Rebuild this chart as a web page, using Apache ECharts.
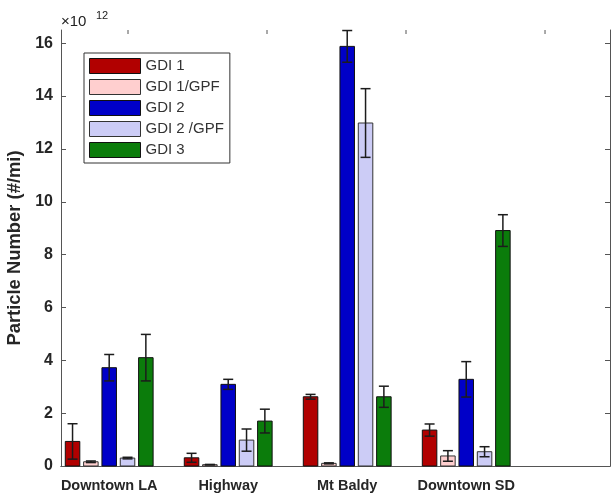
<!DOCTYPE html>
<html>
<head>
<meta charset="utf-8">
<script src="https://cdn.jsdelivr.net/npm/echarts@6/dist/echarts.min.js"></script>
<style>html,body{margin:0;padding:0;background:#fff}#c{width:611px;height:495px}</style>
</head>
<body>
<div id="c"></div>
<script>
// ---- data ----
var categories = ['Downtown LA', 'Highway', 'Mt Baldy', 'Downtown SD'];
var seriesNames = ['GDI 1', 'GDI 1/GPF', 'GDI 2', 'GDI 2 /GPF', 'GDI 3'];
var gdi1      = [0.93, 0.31, 2.62, 1.36];
var gdi1Err   = [0.67, 0.17, 0.09, 0.23];
var gdi1gpf   = [0.16, 0.05, 0.10, 0.38];
var gdi1gpfErr= [0.03, 0.01, 0.02, 0.20];
var gdi2      = [3.72, 3.09, 15.88, 3.28];
var gdi2Err   = [0.50, 0.19, 0.60, 0.67];
var gdi2gpf   = [0.30, 0.98, 12.98, 0.54];
var gdi2gpfErr= [0.03, 0.42, 1.30, 0.19];
var gdi3      = [4.10, 1.70, 2.62, 8.91];
var gdi3Err   = [0.88, 0.45, 0.40, 0.60];
var yTicks = [0, 2, 4, 6, 8, 10, 12, 14, 16];
var topTicks = [1.158, 2.326, 3.494, 4.662];

var values = [gdi1, gdi1gpf, gdi2, gdi2gpf, gdi3];
var errors = [gdi1Err, gdi1gpfErr, gdi2Err, gdi2gpfErr, gdi3Err];
var colors = ['#B10000', '#FFCFCF', '#0000C8', '#CCCCF6', '#0B7C0B'];
var borders = ['#111', '#333', '#111', '#333', '#111'];

var FONT = '"Liberation Sans", Arial, Helvetica, sans-serif';
var STEP = 0.154, BARW = 0.122;
var XMIN = 0.595, XMAX = 5.208, YMAX = 16.5;

function makeSeries(k) {
  var data = categories.map(function (c, i) { return [i + 1, values[k][i], errors[k][i]]; });
  return {
    name: seriesNames[k],
    type: 'custom',
    xAxisIndex: 0, yAxisIndex: 0,
    itemStyle: { color: colors[k], borderColor: borders[k], borderWidth: 1 },
    data: data,
    renderItem: function (params, api) {
      var x = api.value(0) + (k - 2) * STEP;
      var v = api.value(1), e = api.value(2);
      var p0 = api.coord([x, 0]);
      var p1 = api.coord([x, v]);
      var w = api.size([BARW, 0])[0];
      var top = api.coord([x, v + e]);
      var bot = api.coord([x, Math.max(v - e, 0)]);
      var cap = 5;
      var eStyle = { stroke: '#1c1c1c', lineWidth: 1.5 };
      return {
        type: 'group',
        children: [
          { type: 'rect', shape: { x: p0[0] - w / 2, y: p1[1], width: w, height: p0[1] - p1[1] },
            style: { fill: colors[k], stroke: borders[k], lineWidth: 1 } },
          { type: 'line', shape: { x1: top[0], y1: top[1], x2: bot[0], y2: bot[1] }, style: eStyle },
          { type: 'line', shape: { x1: top[0] - cap, y1: top[1], x2: top[0] + cap, y2: top[1] }, style: eStyle },
          { type: 'line', shape: { x1: bot[0] - cap, y1: bot[1], x2: bot[0] + cap, y2: bot[1] }, style: eStyle }
        ]
      };
    }
  };
}

var series = [];
for (var k = 0; k < 5; k++) series.push(makeSeries(k));
// top mirror-axis ticks
series.push({
  name: 'topTicks', type: 'custom', xAxisIndex: 0, yAxisIndex: 0, silent: true,
  data: topTicks.map(function (t) { return [t, YMAX]; }),
  renderItem: function (params, api) {
    var p = api.coord([api.value(0), api.value(1)]);
    return { type: 'line', shape: { x1: p[0], y1: p[1], x2: p[0], y2: p[1] + 4 }, style: { stroke: '#555', lineWidth: 1 } };
  }
});

var chart = echarts.init(document.getElementById('c'), null, { renderer: 'canvas' });
chart.setOption({
  backgroundColor: '#ffffff',
  animation: false,
  grid: { left: 61, right: 1, top: 30, bottom: 29, containLabel: false, outerBoundsMode: 'none' },
  legend: {
    orient: 'vertical', left: 84, top: 53,
    backgroundColor: '#fff',
    borderColor: '#333', borderWidth: 1,
    padding: [5, 6, 5, 5],
    itemWidth: 51, itemHeight: 15, itemGap: 5,
    icon: 'rect',
    textStyle: { fontFamily: FONT, fontSize: 15, color: '#333', lineHeight: 15 },
    data: seriesNames.map(function (n, i) {
      return { name: n, itemStyle: { color: colors[i], borderColor: borders[i], borderWidth: 1 } };
    })
  },
  xAxis: [{
    type: 'value', position: 'bottom', min: XMIN, max: XMAX,
    axisLine: { show: true, lineStyle: { color: '#555', width: 1 } },
    axisTick: { show: false },
    splitLine: { show: false },
    axisLabel: {
      customValues: [1, 2, 3, 4],
      formatter: function (v) { return categories[Math.round(v) - 1]; },
      fontFamily: FONT, fontSize: 14.5, fontWeight: 'bold', color: '#262626', margin: 12
    }
  }, {
    type: 'value', position: 'top', min: XMIN, max: XMAX,
    axisLine: { show: true, lineStyle: { color: '#555', width: 1 } },
    axisTick: { show: false },
    axisLabel: { show: false },
    splitLine: { show: false }
  }],
  yAxis: [{
    type: 'value', position: 'left', min: 0, max: YMAX, interval: 2,
    name: 'Particle Number (#/mi)', nameLocation: 'middle', nameGap: 34,
    nameTextStyle: { fontFamily: FONT, fontSize: 18.4, fontWeight: 'bold', color: '#262626' },
    axisLine: { show: true, lineStyle: { color: '#555', width: 1 } },
    axisTick: { show: true, inside: true, length: 5, lineStyle: { color: '#555' }, customValues: yTicks },
    axisLabel: { customValues: yTicks, fontFamily: FONT, fontSize: 16, fontWeight: 'bold', color: '#262626', margin: 8 },
    splitLine: { show: false }
  }, {
    type: 'value', position: 'right', min: 0, max: YMAX, interval: 2,
    axisLine: { show: true, lineStyle: { color: '#555', width: 1 } },
    axisTick: { show: true, inside: true, length: 5, lineStyle: { color: '#555' }, customValues: yTicks },
    axisLabel: { show: false },
    splitLine: { show: false }
  }],
  graphic: [
    { type: 'text', left: 61, top: 14, style: { text: '×10', font: '15px ' + FONT, fill: '#222' } },
    { type: 'text', left: 96, top: 10, style: { text: '12', font: '11px ' + FONT, fill: '#222' } }
  ],
  series: series
});
</script>
</body>
</html>
